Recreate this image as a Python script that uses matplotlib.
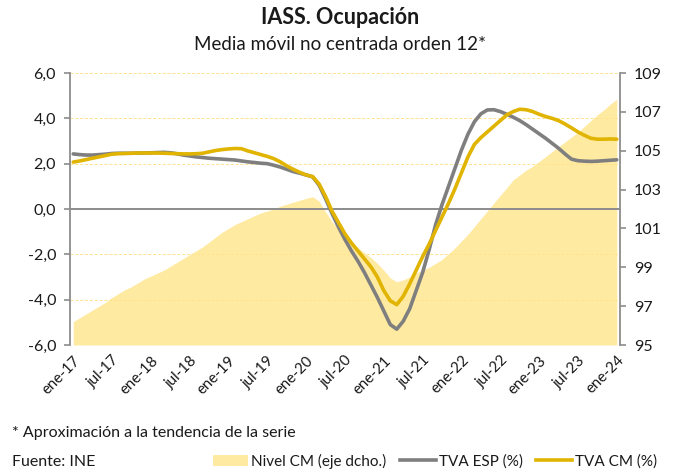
import numpy as np
import matplotlib
matplotlib.use("Agg")
import matplotlib.pyplot as plt
from matplotlib.patches import Patch
from matplotlib.lines import Line2D

plt.rcParams['font.family'] = ['Lato', 'DejaVu Sans']

# monthly data, ene-17 .. ene-24
tva_esp = [2.43, 2.40, 2.38, 2.38, 2.40, 2.42, 2.45, 2.46, 2.46, 2.46, 2.47, 2.47,
           2.48, 2.49, 2.50, 2.48, 2.44, 2.38, 2.34, 2.30, 2.27, 2.24, 2.22, 2.20,
           2.18, 2.16, 2.12, 2.08, 2.05, 2.02, 2.00, 1.93, 1.85, 1.75, 1.65, 1.58,
           1.50, 1.42, 1.05, 0.45, -0.20, -0.80, -1.35, -1.85, -2.30, -2.80, -3.35, -3.90,
           -4.50, -5.10, -5.30, -4.95, -4.40, -3.60, -2.80, -1.80, -0.70, 0.20, 1.00, 1.80,
           2.60, 3.30, 3.85, 4.20, 4.37, 4.38, 4.30, 4.18, 4.05, 3.90, 3.72, 3.52,
           3.32, 3.12, 2.90, 2.68, 2.43, 2.20, 2.13, 2.11, 2.10, 2.11, 2.13, 2.15,
           2.17]

tva_cm = [2.07, 2.12, 2.18, 2.24, 2.30, 2.36, 2.42, 2.44, 2.45, 2.46, 2.47, 2.47,
          2.47, 2.47, 2.46, 2.45, 2.44, 2.43, 2.43, 2.44, 2.46, 2.52, 2.58, 2.62,
          2.65, 2.67, 2.66, 2.56, 2.48, 2.40, 2.32, 2.22, 2.08, 1.90, 1.75, 1.62,
          1.50, 1.43, 1.10, 0.55, -0.10, -0.60, -1.10, -1.50, -1.85, -2.20, -2.55, -3.00,
          -3.60, -4.05, -4.22, -3.85, -3.30, -2.70, -2.10, -1.55, -0.95, -0.35, 0.25, 0.90,
          1.60, 2.30, 2.85, 3.15, 3.40, 3.65, 3.90, 4.15, 4.30, 4.40, 4.38, 4.30,
          4.18, 4.08, 4.00, 3.90, 3.75, 3.58, 3.40, 3.25, 3.12, 3.08, 3.08, 3.09,
          3.08]

nivel_cm = [96.2, 96.4, 96.6, 96.8, 97.0, 97.2, 97.45, 97.65, 97.85, 98.0, 98.2, 98.4,
            98.55, 98.7, 98.85, 99.05, 99.25, 99.45, 99.65, 99.85, 100.05, 100.3, 100.55, 100.8,
            101.0, 101.2, 101.35, 101.5, 101.65, 101.8, 101.9, 102.0, 102.15, 102.25, 102.35, 102.45,
            102.55, 102.63, 102.4, 101.85, 101.35, 100.95, 100.6, 100.3, 100.0, 99.75, 99.5, 99.2,
            98.85, 98.45, 98.25, 98.35, 98.5, 98.7, 98.86, 99.0, 99.2, 99.4, 99.7, 100.0,
            100.35, 100.7, 101.1, 101.5, 101.9, 102.3, 102.7, 103.1, 103.5, 103.75, 104.0, 104.2,
            104.45, 104.7, 104.95, 105.2, 105.45, 105.7, 105.95, 106.25, 106.55, 106.85, 107.1, 107.4,
            107.65]

tick_labels = ["ene-17", "jul-17", "ene-18", "jul-18", "ene-19", "jul-19", "ene-20", "jul-20",
               "ene-21", "jul-21", "ene-22", "jul-22", "ene-23", "jul-23", "ene-24"]

GRAY = "#7f7f7f"
GOLD = "#e0b400"
AREA = "#ffeaa2"
SPINE = "#8c8c8c"
TXT = "#1a1a1a"

x = np.arange(len(tva_esp))

fig = plt.figure(figsize=(6.73, 4.70), dpi=100)
ax = fig.add_axes([70/673, 1-345/470, 550/673, 272/470])
ax2 = ax.twinx()

# area on the right axis, behind the lines
ax2.fill_between(x, 95, nivel_cm, color=AREA, lw=0)
ax2.set_ylim(95, 109)
ax2.set_yticks(np.arange(95, 110, 2))

ax.set_zorder(ax2.get_zorder() + 1)
ax.patch.set_visible(False)

for v in [-4, -2, 2, 4, 6]:
    ax.axhline(v, color="#ffe28a", lw=0.7, ls=(0, (3, 2)), zorder=1)
ax.axhline(0, color=SPINE, lw=1.4, zorder=2)
ax.plot(x, tva_esp, color=GRAY, lw=2.6, zorder=3, solid_capstyle="round")
ax.plot(x, tva_cm, color=GOLD, lw=2.6, zorder=4, solid_capstyle="round")

ax.set_ylim(-6, 6)
ax.set_yticks(np.arange(-6, 7, 2))
ax.set_yticklabels([f"{v:.1f}".replace(".", ",") for v in np.arange(-6, 7, 2)])
ax.set_xlim(-0.5, len(x) - 0.5)
ax.set_xticks(np.arange(0, len(x), 6))
ax.set_xticklabels(tick_labels, rotation=45, ha="right", rotation_mode="anchor")

for a in (ax, ax2):
    for s in ("top", "bottom", "left", "right"):
        a.spines[s].set_visible(False)
ax.spines["left"].set_visible(True)
ax.spines["left"].set_color(SPINE)
ax.spines["left"].set_linewidth(1.3)
ax2.spines["right"].set_visible(True)
ax2.spines["right"].set_color(SPINE)
ax2.spines["right"].set_linewidth(1.3)

ax.tick_params(axis="y", length=4, width=1.2, color=SPINE, labelsize=11.5, labelcolor=TXT, pad=6)
ax2.tick_params(axis="y", length=4, width=1.2, color=SPINE, labelsize=11.5, labelcolor=TXT, pad=6)
ax.tick_params(axis="x", length=0, labelsize=10.8, labelcolor=TXT, pad=6)

fig.text(340/673, 1-18/470, "IASS. Ocupación", ha="center", va="center",
         fontsize=15.5, fontweight="bold", color=TXT)
fig.text(340/673, 1-45/470, "Media móvil no centrada orden 12*", ha="center", va="center",
         fontsize=13.5, color=TXT)
fig.text(12/673, 1-433/470, "* Aproximación a la tendencia de la serie", ha="left", va="center",
         fontsize=11.5, color=TXT)
fig.text(12/673, 1-462/470, "Fuente: INE", ha="left", va="center", fontsize=11.5, color=TXT)

handles = [Patch(facecolor=AREA, edgecolor="none"),
           Line2D([], [], color=GRAY, lw=2.6),
           Line2D([], [], color=GOLD, lw=2.6)]
labels = ["Nivel CM (eje dcho.)", "TVA ESP (%)", "TVA CM (%)"]
fig.legend(handles, labels, loc="center", bbox_to_anchor=(435/673, 1-461/470), ncol=3,
           frameon=False, fontsize=11, handlelength=2.3, handletextpad=0.2,
           columnspacing=0.9, labelcolor=TXT)

fig.savefig("out.png", dpi=100)
